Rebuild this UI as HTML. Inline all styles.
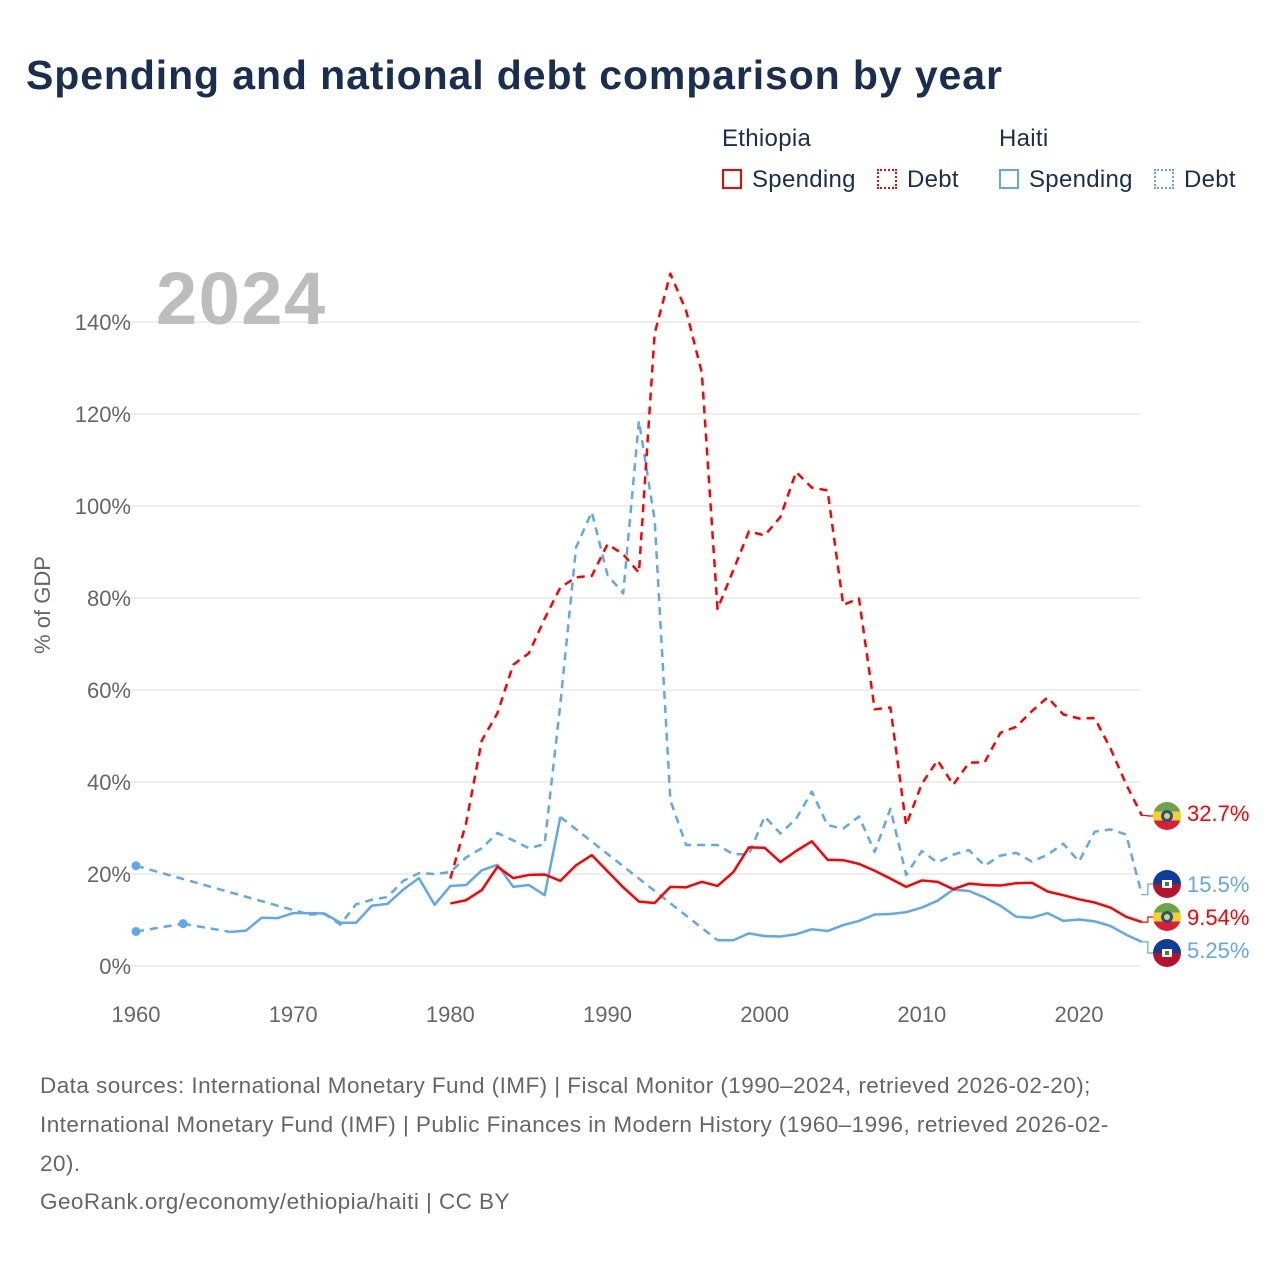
<!DOCTYPE html>
<html><head><meta charset="utf-8">
<style>
body{margin:0;background:#fff;width:1280px;height:1280px;overflow:hidden;font-family:"Liberation Sans",sans-serif}
#title{position:absolute;left:26px;top:52px;font-size:41px;font-weight:bold;color:#1a2e4f;letter-spacing:0.9px;white-space:nowrap}
.lg{position:absolute;font-size:24px;color:#1a2e4f;letter-spacing:0.3px}
.sw{position:absolute;width:20px;height:20px;box-sizing:border-box}
.src{position:absolute;left:40px;font-size:22.5px;color:#666;line-height:39px;white-space:nowrap;letter-spacing:0.45px}
</style></head><body>
<div id="title">Spending and national debt comparison by year</div>
<div class="lg" style="left:722px;top:125px">Ethiopia</div>
<div class="lg" style="left:999px;top:125px">Haiti</div>
<div class="sw" style="left:722px;top:169px;border:2px solid #f00"></div>
<div class="lg" style="left:752px;top:166px">Spending</div>
<div class="sw" style="left:877px;top:169px;border:2px dotted #f00"></div>
<div class="lg" style="left:907px;top:166px">Debt</div>
<div class="sw" style="left:999px;top:169px;border:2px solid #5fa8ea"></div>
<div class="lg" style="left:1029px;top:166px">Spending</div>
<div class="sw" style="left:1154px;top:169px;border:2px dotted #5fa8ea"></div>
<div class="lg" style="left:1184px;top:166px">Debt</div>
<svg id="chart" width="1280" height="1280" style="position:absolute;left:0;top:0"></svg>
<div class="src" style="top:1066px">Data sources: International Monetary Fund (IMF) | Fiscal Monitor (1990–2024, retrieved 2026-02-20);<br>International Monetary Fund (IMF) | Public Finances in Modern History (1960–1996, retrieved 2026-02-<br>20).</div>
<div class="src" style="top:1182px">GeoRank.org/economy/ethiopia/haiti | CC BY</div>
<script>
const years=[];for(let y=1960;y<=2024;y++)years.push(y);
const yTicks=[0,20,40,60,80,100,120,140];
const xTicks=[1960,1970,1980,1990,2000,2010,2020];
const N=null;
const ethSpending=[N,N,N,N,N,N,N,N,N,N,N,N,N,N,N,N,N,N,N,N,
13.6,14.3,16.5,21.6,19.1,19.8,19.9,18.5,21.9,24.1,20.6,17.1,14.0,13.7,17.2,17.1,18.3,17.4,20.4,25.8,
25.7,22.6,25.0,27.1,23.1,23.0,22.2,20.7,19.0,17.2,18.6,18.3,16.7,17.9,17.6,17.5,18.0,18.1,16.2,15.4,
14.5,13.8,12.7,10.7,9.54];
const ethDebt=[N,N,N,N,N,N,N,N,N,N,N,N,N,N,N,N,N,N,N,N,
19,31,49,55,65.5,68,75.5,82.3,84.5,84.8,91.7,89.5,85.5,137.5,150.5,142.5,129,77.6,86,94.5,
93.6,97.6,107.4,104,103.4,78.5,79.9,55.8,56.2,30.6,39.6,44.7,39.4,44.2,44.3,50.7,52.0,55.4,58.4,54.7,
53.8,53.9,47.3,39.5,32.7];
const haiSpending=[7.5,N,N,9.2,N,N,7.4,7.7,10.5,10.4,11.5,11.5,11.4,9.4,9.4,13.1,13.5,16.6,19.1,13.3,
17.4,17.6,20.8,22.0,17.2,17.6,15.4,32.4,N,N,N,N,N,N,N,N,N,5.6,5.6,7.1,
6.5,6.4,6.9,8.0,7.6,8.9,9.8,11.2,11.3,11.7,12.7,14.2,16.6,16.3,14.9,13.1,10.7,10.5,11.5,9.8,
10.1,9.7,8.7,6.8,5.25];
const haiDebt=[21.8,N,N,N,N,N,N,N,N,N,N,11.2,11.3,9.0,13.4,14.4,15.0,18.5,20.2,20.0,
20.4,23.6,25.6,28.9,27.3,25.6,26.5,57,91,98.7,85,81,118.5,97,36,26.3,26.3,26.3,24.3,24.3,
32.5,28.8,32.0,37.9,30.6,29.9,32.5,24.8,34.2,19.8,25.0,22.5,24.2,25.2,21.8,24.0,24.6,22.7,24.2,26.6,
22.7,29.2,29.7,28.6,15.5];

const NS="http://www.w3.org/2000/svg";
const svg=document.getElementById('chart');
const X=y=>136+(y-1960)*(1079-136)/60;
const Y=v=>966-v*4.6;
function mk(t,a,p){const e=document.createElementNS(NS,t);for(const k in a)e.setAttribute(k,a[k]);(p||svg).appendChild(e);return e;}
yTicks.forEach(t=>{
  const l=mk('line',{x1:128,x2:1141,y1:Y(t),y2:Y(t),stroke:'#e8e8e8','stroke-width':1.5});
  
  
  const tx=mk('text',{x:131,y:Y(t)+8,'text-anchor':'end','font-size':22,fill:'#666'});tx.textContent=t+'%';
  
  
});
xTicks.forEach(t=>{
  const tx=mk('text',{x:X(t),y:1022,'text-anchor':'middle','font-size':22,fill:'#666'});tx.textContent=t;
  
  
});
const yt=mk('text',{x:0,y:0,transform:'translate(50,605) rotate(-90)','text-anchor':'middle','font-size':22,fill:'#666'});yt.textContent='% of GDP';


const yr=mk('text',{x:156,y:324,'font-size':74,'font-weight':'bold',fill:'#bdbdbd','letter-spacing':1.5});yr.textContent='2024';



function series(vals,color,dashed,name){
  const g=mk('g',{});
  
  
  let seg=[],last=null;
  const flush=()=>{
    if(seg.length>1){mk('polyline',{points:seg.map(p=>p.join(',')).join(' '),fill:'none',stroke:color,'stroke-width':2.5,'stroke-dasharray':dashed?'8,6':'none','stroke-linejoin':'round'},g);}
    else if(seg.length===1){mk('circle',{cx:seg[0][0],cy:seg[0][1],r:4.5,fill:color},g);}
    seg=[];
  };
  vals.forEach((v,i)=>{
    if(v===null){flush();return;}
    const p=[X(years[i]),Y(v)];
    if(last!==null&&last.i!==i-1){mk('line',{x1:last.p[0],y1:last.p[1],x2:p[0],y2:p[1],stroke:color,'stroke-width':2.5,'stroke-dasharray':'8,6'},g);}
    seg.push(p);last={i,p};
  });
  flush();
  return g;
}
series(haiSpending,'#5fa8ea',false,'haiti-spending-line');
series(haiDebt,'#5fa8ea',true,'haiti-debt-line');
series(ethSpending,'#f00',false,'ethiopia-spending-line');
series(ethDebt,'#f00',true,'ethiopia-debt-line');

function flag(cy,val,color,eth,ly,name){
  const g=mk('g',{});
  
  
  const x0=X(2024);
  mk('polyline',{points:`${x0},${Y(val)} ${x0+6},${Y(val)} ${x0+6},${cy} ${1153},${cy}`,fill:'none',stroke:color,'stroke-width':1.2},g);
  const cid='c'+Math.round(cy);
  const cp=mk('clipPath',{id:cid},g);mk('circle',{cx:1167,cy:cy,r:14},cp);
  const fg=mk('g',{'clip-path':`url(#${cid})`},g);
  if(eth){
    mk('rect',{x:1153,y:cy-14,width:28,height:9.5,fill:'#6ea544'},fg);
    mk('rect',{x:1153,y:cy-4.5,width:28,height:9,fill:'#f7d02b'},fg);
    mk('rect',{x:1153,y:cy+4.5,width:28,height:9.5,fill:'#dc1e2e'},fg);
    mk('circle',{cx:1167,cy:cy,r:6,fill:'#1f4fa8'},fg);
    mk('circle',{cx:1167,cy:cy,r:3,fill:'#f7d02b'},fg);
  }else{
    mk('rect',{x:1153,y:cy-14,width:28,height:14,fill:'#0d3f9a'},fg);
    mk('rect',{x:1153,y:cy,width:28,height:14,fill:'#b5122b'},fg);
    mk('rect',{x:1162,y:cy-4,width:10,height:8,fill:'#fff'},fg);
    mk('rect',{x:1165,y:cy-2,width:4,height:4,fill:'#4a7a3a'},fg);
  }
  const t=mk('text',{x:1187,y:ly,'font-size':22,fill:color},g);t.textContent=val+'%';
}
flag(816,32.7,'#f00',true,821,'ethiopia-debt-end-label');
flag(884,15.5,'#5fa8ea',false,892,'haiti-debt-end-label');
flag(917,9.54,'#f00',true,925,'ethiopia-spending-end-label');
flag(953,5.25,'#5fa8ea',false,958,'haiti-spending-end-label');
</script>
</body></html>
